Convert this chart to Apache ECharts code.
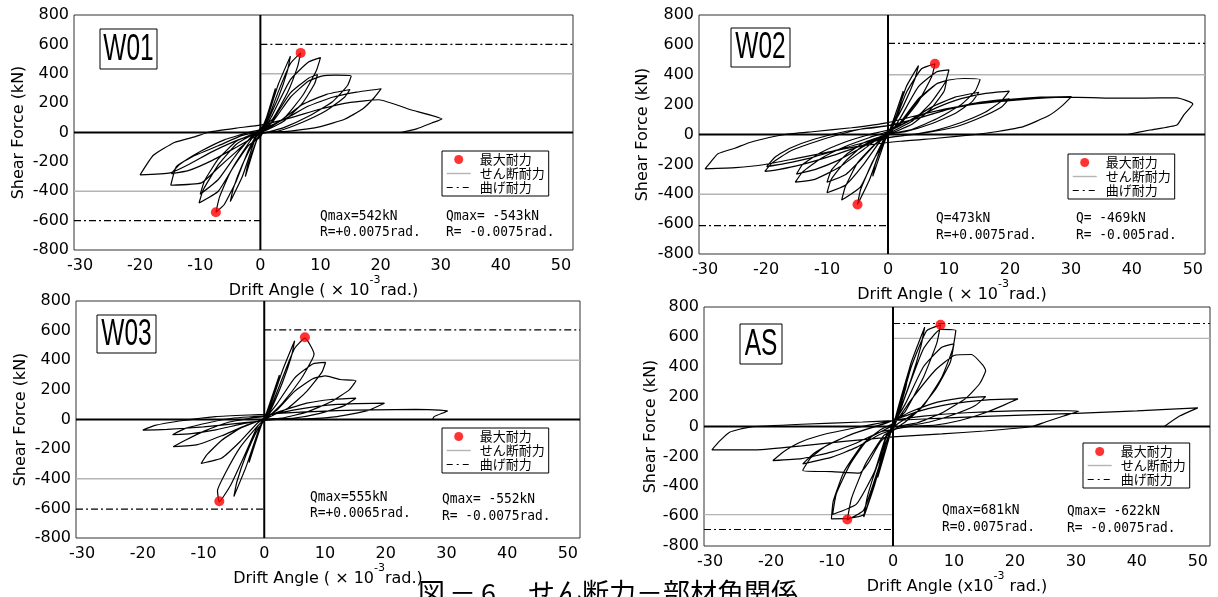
<!DOCTYPE html>
<html><head><meta charset="utf-8">
<script src="https://cdn.jsdelivr.net/npm/echarts@6/dist/echarts.min.js"></script>
<style>html,body{margin:0;padding:0;background:#fff}#c{width:1218px;height:597px}</style>
</head><body><div id="c"></div>
<script>
// ---------------- data ----------------
const xTickValues = [-30, -20, -10, 0, 10, 20, 30, 40, 50];
const xRange = [-31, 52];
const yRange = [-800, 800];
const yStep = 200;
const legendNames = ['最大耐力', 'せん断耐力', '曲げ耐力'];
const panelNames = ['W01', 'W02', 'W03', 'AS'];

const w01Curve = [
[0,0],[1,100],[2.5,300],[2.1,220],[0.5,40],[0,10],[-1,-100],[-2.5,-300],[-2.1,-220],[-0.5,-40],[0,-10],
[1,80],[3,330],[5,520],[4.5,420],[3,240],[1,60],[0,20],[-1,-60],[-3,-300],[-5,-470],[-4.5,-380],[-3,-220],[-1,-60],[0,-20],
[1,60],[3,280],[5,470],[6.7,542],[6.2,450],[4.5,270],[2,90],[0,30],[-2,-120],[-4,-330],[-6,-490],[-7.4,-543],[-6.8,-440],[-5,-270],[-2,-90],[0,-30],
[2,120],[5,360],[8,480],[10,510],[9.3,420],[7,250],[4,100],[1,20],[-1,-20],[-4,-200],[-7,-400],[-10.2,-480],[-9.5,-390],[-7,-220],[-4,-80],[-1,-10],[0,0],
[2,80],[5,270],[8,370],[9.5,395],[9,330],[7,200],[4,80],[1,15],[-1,-10],[-4,-150],[-7,-320],[-10,-420],[-9.3,-330],[-7,-180],[-4,-60],[-1,-5],[0,10],
[2,70],[5,240],[8,350],[10.2,384],[12.5,390],[15.1,384],[14.5,320],[12,210],[8,110],[4,35],[1,0],[-1,-20],[-4,-130],[-7,-240],[-9.8,-343],[-14.9,-359],[-14,-234],[-11.4,-166],[-7,-90],[-3,-20],[0,10],
[3,70],[7,190],[11,260],[14.9,293],[14,240],[11,150],[7,70],[3,10],[0,-10],[-4,-100],[-8,-190],[-12,-260],[-14.8,-280],[-13.5,-220],[-10,-130],[-6,-50],[-2,0],[0,20],
[4,90],[8,180],[12,240],[16,275],[20.1,298],[19,240],[17,160],[14,90],[10,40],[5,10],[1,0],[-3,-40],[-8,-130],[-12,-220],[-15,-275],[-20,-288],[-17.8,-155],[-14.3,-68],[-11,-30],[-8.3,5],[-4,30],[0,50],
[5,100],[10,160],[15,205],[19.7,223],[25,155],[30.2,92],[28.5,65],[26,25],[23.4,0]
];
const w01Peaks = [[6.7, 542], [-7.4, -543]];
const w01Shear = 400;
const w01Flex = 600;
const w01Notes = ['Qmax=542kN', 'R=+0.0075rad.', 'Qmax= -543kN', 'R= -0.0075rad.'];

const w02Curve = [
[0,0],[1,110],[2.5,290],[2.1,210],[0.5,40],[0,10],[-1,-100],[-2.5,-280],[-2.1,-200],[-0.5,-30],[0,-10],
[1,80],[3,320],[5,461],[4.4,370],[2.5,190],[0.5,40],[0,10],[-1,-70],[-3,-300],[-5,-469],[-4.5,-370],[-2.5,-180],[-0.5,-40],[0,-10],
[1,70],[3,280],[5.5,440],[7.7,473],[7.2,390],[5,220],[2,70],[0,20],[-2,-140],[-4.5,-350],[-7.6,-439],[-7,-350],[-5,-190],[-2,-60],[0,-10],
[2,110],[5,320],[8,420],[10,433],[9.4,350],[7,210],[4,90],[1,25],[-1,-30],[-4,-200],[-7,-340],[-10,-390],[-9.3,-300],[-7,-180],[-4,-70],[-1,-15],[0,10],
[2,80],[5,240],[8,340],[9.6,361],[9.2,290],[7,170],[4,70],[1,15],[-1,-20],[-4,-150],[-7,-270],[-10,-320],[-9.3,-240],[-7,-140],[-4,-55],[-1,-10],[0,20],
[2,80],[5,230],[8,340],[10,365],[12.5,375],[15.1,368],[14.3,290],[12,200],[8,105],[4,35],[1,10],[-1,-10],[-4,-100],[-8,-220],[-12,-300],[-15.2,-319],[-14,-250],[-11,-160],[-7,-80],[-3,-20],[0,20],
[3,80],[7,180],[11,250],[14.9,283],[13.8,220],[11,140],[7,70],[3,20],[0,0],[-4,-80],[-8,-170],[-12,-235],[-15,-265],[-14,-200],[-11,-120],[-7,-50],[-3,0],[0,30],
[4,100],[8,180],[12,240],[16,275],[19.9,290],[18.5,220],[16,150],[12,80],[8,30],[4,0],[0,-20],[-4,-70],[-9,-140],[-14,-200],[-18,-235],[-20.2,-247],[-19,-190],[-16,-110],[-12,-50],[-8,0],[-4,40],[0,60],
[5,110],[10,170],[15,215],[19.9,239],[18.5,180],[15,110],[11,50],[6,10],[2,-10],[-3,-45],[-8,-100],[-13,-160],[-17,-195],[-19.9,-215],[-18.5,-150],[-16,-90],[-12,-30],[-7,20],[0,60],
[5,110],[10,170],[15,210],[20,235],[25,250],[30.1,254],[28.5,190],[26.4,127],[22.2,53],[18,20],[14.4,0],[8,-25],[2,-45],[-5,-80],[-10,-120],[-15,-160],[-20.2,-201],[-25,-222],[-30,-230],[-29,-180],[-27.9,-129],[-25,-90],[-22.8,-55],[-19.5,-20],[-16.9,0],[-12,20],[-6,45],[0,80],
[6,140],[12,190],[18,220],[24,240],[30,250],[36.7,243],[42,244],[47.4,245],[50,205],[48.5,130],[47.4,64],[43,30],[39.3,0]
];
const w02Peaks = [[7.7, 473], [-5, -469]];
const w02Shear = 400;
const w02Flex = 610;
const w02Notes = ['Q=473kN', 'R=+0.0075rad.', 'Q= -469kN', 'R= -0.005rad.'];

const w03Curve = [
[0,0],[1,120],[2.5,300],[2,220],[0.5,40],[0,10],[-1,-100],[-2.5,-290],[-2,-210],[-0.5,-30],[0,-10],
[1,90],[3,330],[5,531],[4.5,430],[3,250],[1,60],[0,10],[-1,-80],[-3,-320],[-5,-520],[-4.5,-420],[-3,-240],[-1,-60],[0,-10],
[1,70],[3,280],[5,480],[6.7,549],[7.6,500],[8.2,441],[7.9,407],[6,270],[3,110],[1,30],[-1,-40],[-3,-220],[-5.5,-440],[-7.4,-555],[-7.7,-481],[-6.5,-370],[-4,-190],[-1,-40],[0,0],
[2,100],[5,280],[8,375],[10.1,385],[9.5,320],[7,190],[4,80],[1,20],[-1,-20],[-4,-150],[-7,-260],[-10.4,-297],[-9.5,-240],[-7,-140],[-4,-60],[-1,-10],[0,10],
[2,60],[5,190],[8,275],[10.1,295],[12.5,270],[15.1,261],[14,200],[11,120],[7,50],[3,10],[0,0],[-3,-40],[-7,-110],[-11,-170],[-15,-184],[-13,-140],[-10,-80],[-6,-20],[-2,10],[0,20],
[3,60],[7,110],[11,135],[15.1,144],[13,90],[9,40],[5,10],[1,0],[-3,-25],[-8,-70],[-12,-95],[-15.1,-103],[-13,-60],[-9,-20],[-5,10],[0,25],
[5,65],[10,95],[15,107],[19.8,110],[17,60],[12,20],[7,5],[2,0],[-4,-25],[-10,-50],[-16,-67],[-20,-72],[-18,-40],[-14,-10],[-8,20],[0,35],
[6,50],[12,60],[18,65],[25,68],[30.2,58],[28,20],[27.7,0]
];
const w03Peaks = [[6.7, 555], [-7.4, -552]];
const w03Shear = 400;
const w03Flex = 605;
const w03Notes = ['Qmax=555kN', 'R=+0.0065rad.', 'Qmax= -552kN', 'R= -0.0075rad.'];

const asCurve = [
[0,0],[1,150],[2.5,360],[2.1,260],[0.5,50],[0,10],[-1,-130],[-2.5,-340],[-2.1,-250],[-0.5,-40],[0,-10],
[1,130],[3,430],[5.2,665],[4.6,540],[3,320],[1,100],[0,30],[-1,-100],[-3,-390],[-4.8,-607],[-4.2,-470],[-2.5,-250],[-0.5,-40],[0,-10],
[1,110],[3,400],[5.5,640],[7.8,680],[7.2,560],[5,330],[2,100],[0,20],[-2,-230],[-4.8,-560],[-7.5,-625],[-6.8,-480],[-4.5,-250],[-1.5,-60],[0,-20],
[2,200],[5,520],[7.8,650],[10.3,643],[9.8,520],[8,330],[5,140],[2,30],[-1,-60],[-2.5,-300],[-4.8,-590],[-7.5,-615],[-10.1,-618],[-9.8,-500],[-8,-300],[-5,-120],[-2,-20],[0,20],
[2,150],[5,400],[8,530],[10,553],[9.4,430],[7,250],[4,100],[1,25],[-1,-50],[-3,-300],[-6,-520],[-9.9,-589],[-9.3,-450],[-7,-250],[-4,-80],[0,10],
[3,180],[7,380],[10,475],[12.9,482],[14.8,408],[15.2,375],[14.2,286],[12,190],[8,90],[4,25],[1,0],[-2,-100],[-4,-240],[-5.5,-312],[-10,-302],[-14.8,-294],[-13.5,-210],[-11,-130],[-7,-55],[-3,0],[0,40],
[3,100],[7,160],[11,190],[15.2,200],[13.5,140],[10,80],[6,30],[2,0],[-2,-50],[-6,-140],[-10,-205],[-14.8,-250],[-13,-180],[-10,-110],[-6,-40],[-2,10],[0,40],
[4,100],[8,140],[12,165],[16,180],[20.5,185],[18,140],[15,90],[11,40],[7,10],[3,0],[-2,-35],[-6,-110],[-10,-170],[-15,-215],[-19.7,-228],[-18,-170],[-15.5,-110],[-12,-60],[-7,-15],[0,40],
[5,70],[12,92],[20,105],[26,107],[30.5,103],[28,70],[25,30],[22.9,0],[15,-30],[8,-50],[0,-70],[-8,-100],[-15,-130],[-22.3,-156],[-29.7,-156],[-28.5,-100],[-26.8,-38],[-23.5,-4],[-15,15],[-5,30],[0,40],
[10,60],[20,75],[30,88],[40,104],[50,125],[47,70],[44.5,0]
];
const asPeaks = [[7.8, 681], [-7.5, -622]];
const asShear = 590;
const asFlex = 690;
const asNotes = ['Qmax=681kN', 'R=0.0075rad.', 'Qmax= -622kN', 'R= -0.0075rad.'];

const xNames = ['Drift Angle ( × 10', 'Drift Angle ( × 10', 'Drift Angle ( × 10', 'Drift Angle (x10'];
const xNameTails = ['rad.)', 'rad.)', 'rad.)', ' rad.)'];
const yName = 'Shear Force (kN)';
const captionParts = ['図', '－', '6', 'せん断力－部材角関係'];

// ---------------- layout ----------------
const panels = [
  {curve: w01Curve, peaks: w01Peaks, shear: w01Shear, flex: w01Flex, notes: w01Notes,
   grid: {left: 74, top: 15, width: 499, height: 235}, xGap: 21, yGap: 47,
   legend: [442, 151], box: [100, 29, 57, 40], noteL: [320, 216, 232], noteR: [446, 216, 232]},
  {curve: w02Curve, peaks: w02Peaks, shear: w02Shear, flex: w02Flex, notes: w02Notes,
   grid: {left: 699, top: 15, width: 506, height: 239}, xGap: 22, yGap: 48,
   legend: [1068, 154], box: [731, 28, 59, 39], noteL: [936, 218, 235], noteR: [1076, 218, 235]},
  {curve: w03Curve, peaks: w03Peaks, shear: w03Shear, flex: w03Flex, notes: w03Notes,
   grid: {left: 76, top: 301, width: 504, height: 237}, xGap: 22, yGap: 47,
   legend: [442, 428], box: [97, 315, 59, 38], noteL: [310, 497, 513], noteR: [442, 499, 516]},
  {curve: asCurve, peaks: asPeaks, shear: asShear, flex: asFlex, notes: asNotes,
   grid: {left: 704, top: 307, width: 506, height: 239}, xGap: 23, yGap: 45,
   legend: [1083, 443], box: [740, 324, 42, 40], noteL: [942, 510, 527], noteR: [1067, 511, 528]}
];

const tickFont = 'DejaVu Sans';
const grids = [], xAxes = [], yAxes = [], series = [], legends = [], graphics = [];
const hidden = {color: 'rgba(0,0,0,0)', borderColor: 'rgba(0,0,0,0)', borderWidth: 0, opacity: 0};

panels.forEach((p, i) => {
  grids.push(Object.assign({show: true, borderColor: '#333', borderWidth: 1, backgroundColor: 'transparent'}, p.grid));
  xAxes.push({
    type: 'value', gridIndex: i, min: xRange[0], max: xRange[1],
    axisLine: {show: false}, axisTick: {show: false}, splitLine: {show: false},
    axisLabel: {customValues: xTickValues, margin: 8, fontSize: 16, fontFamily: tickFont, color: '#000'},
    name: '{n|' + xNames[i] + '}{s|-3}{n|' + xNameTails[i] + '}',
    nameLocation: 'middle', nameGap: p.xGap,
    nameTextStyle: {color: '#000', fontFamily: tickFont, fontSize: 16,
      rich: {n: {fontSize: 16, fontFamily: tickFont, color: '#000', verticalAlign: 'bottom'},
             s: {fontSize: 11, fontFamily: tickFont, color: '#000', verticalAlign: 'top', padding: [0, 0, 13, 0]}}}
  });
  yAxes.push({
    type: 'value', gridIndex: i, min: yRange[0], max: yRange[1], interval: yStep,
    axisLine: {show: false}, axisTick: {show: false}, splitLine: {show: false},
    axisLabel: {margin: 5, fontSize: 16, fontFamily: tickFont, color: '#000'},
    name: yName, nameLocation: 'middle', nameGap: p.yGap,
    nameTextStyle: {color: '#000', fontFamily: tickFont, fontSize: 16}
  });
  const common = {xAxisIndex: i, yAxisIndex: i, symbol: 'none', silent: true, animation: false};
  // reference lines
  series.push(Object.assign({type: 'line', name: legendNames[1], z: 2,
    data: [[0, p.shear], [xRange[1], p.shear], [0, '-'], [xRange[0], -p.shear], [0, -p.shear]],
    itemStyle: {color: '#b4b4b4'}, lineStyle: {color: '#b4b4b4', width: 1.4}}, common));
  series.push(Object.assign({type: 'line', name: legendNames[2], z: 2,
    data: [[0, p.flex], [xRange[1], p.flex], [0, '-'], [xRange[0], -p.flex], [0, -p.flex]],
    itemStyle: {color: '#000'}, lineStyle: {color: '#000', width: 1.1, type: [7, 3, 2, 3]}}, common));
  // zero lines
  series.push(Object.assign({type: 'line', name: 'zeroX', z: 3,
    data: [[xRange[0], 0], [xRange[1], 0]], lineStyle: {color: '#000', width: 2}}, common));
  series.push(Object.assign({type: 'line', name: 'zeroY', z: 3,
    data: [[0, yRange[0]], [0, yRange[1]]], lineStyle: {color: '#000', width: 2}}, common));
  // hysteresis curve
  series.push(Object.assign({type: 'line', name: panelNames[i], z: 4, smooth: 0.15,
    data: p.curve, lineStyle: {color: '#000', width: 1.2}}, common));
  // max strength points
  series.push({type: 'scatter', name: legendNames[0], xAxisIndex: i, yAxisIndex: i, z: 6,
    data: p.peaks, symbol: 'circle', symbolSize: 10, itemStyle: {color: '#ff0000'}, silent: true, animation: false});

  legends.push({
    left: p.legend[0], top: p.legend[1], orient: 'vertical', selectedMode: false,
    data: [
      {name: legendNames[0], icon: 'circle', itemStyle: {color: '#ff0000'}},
      {name: legendNames[1], itemStyle: hidden, lineStyle: {color: '#b4b4b4', width: 1.4}},
      {name: legendNames[2], itemStyle: hidden, lineStyle: {color: '#000', width: 1.1, type: [6, 4, 2, 4]}}
    ],
    itemWidth: 24, itemHeight: 9, itemGap: 1,
    padding: [2, 4, 2, 4], borderColor: '#000', borderWidth: 1, backgroundColor: '#fff',
    textStyle: {fontFamily: 'Noto Sans CJK JP', fontSize: 13, color: '#000', lineHeight: 13, padding: [0, 0, 0, 4]}
  });

  // specimen label box
  graphics.push({type: 'rect', shape: {x: p.box[0], y: p.box[1], width: p.box[2], height: p.box[3]},
    style: {fill: '#fff', stroke: '#000', lineWidth: 1}, z: 50});
  graphics.push({type: 'text', x: p.box[0] + p.box[2] / 2, y: p.box[1] + p.box[3] / 2 + 1, scaleX: 0.68, z: 51,
    style: {text: panelNames[i], font: '36px "Liberation Sans"', fill: '#000',
      textAlign: 'center', textVerticalAlign: 'middle', align: 'center', verticalAlign: 'middle'}});
  // notes
  const noteStyle = (t) => ({text: t, font: '14px "DejaVu Sans Mono"', fill: '#000',
    textAlign: 'left', textVerticalAlign: 'middle', align: 'left', verticalAlign: 'middle'});
  graphics.push({type: 'text', x: p.noteL[0], y: p.noteL[1], z: 51, scaleX: 0.92, style: noteStyle(p.notes[0])});
  graphics.push({type: 'text', x: p.noteL[0], y: p.noteL[2], z: 51, scaleX: 0.92, style: noteStyle(p.notes[1])});
  graphics.push({type: 'text', x: p.noteR[0], y: p.noteR[1], z: 51, scaleX: 0.92, style: noteStyle(p.notes[2])});
  graphics.push({type: 'text', x: p.noteR[0], y: p.noteR[2], z: 51, scaleX: 0.92, style: noteStyle(p.notes[3])});
});

// caption (cut off at the bottom edge)
const capX = [418, 449, 481, 528];
captionParts.forEach((t, k) => {
  graphics.push({type: 'text', x: capX[k], y: 579, z: 51,
    style: {text: t, font: '27px "Noto Sans CJK JP"', fill: '#000',
      textAlign: 'left', textVerticalAlign: 'top', align: 'left', verticalAlign: 'top'}});
});

const chart = echarts.init(document.getElementById('c'), null, {renderer: 'canvas'});
chart.setOption({
  animation: false,
  backgroundColor: '#fff',
  grid: grids, xAxis: xAxes, yAxis: yAxes, series: series, legend: legends,
  graphic: graphics
});
</script>
</body></html>
